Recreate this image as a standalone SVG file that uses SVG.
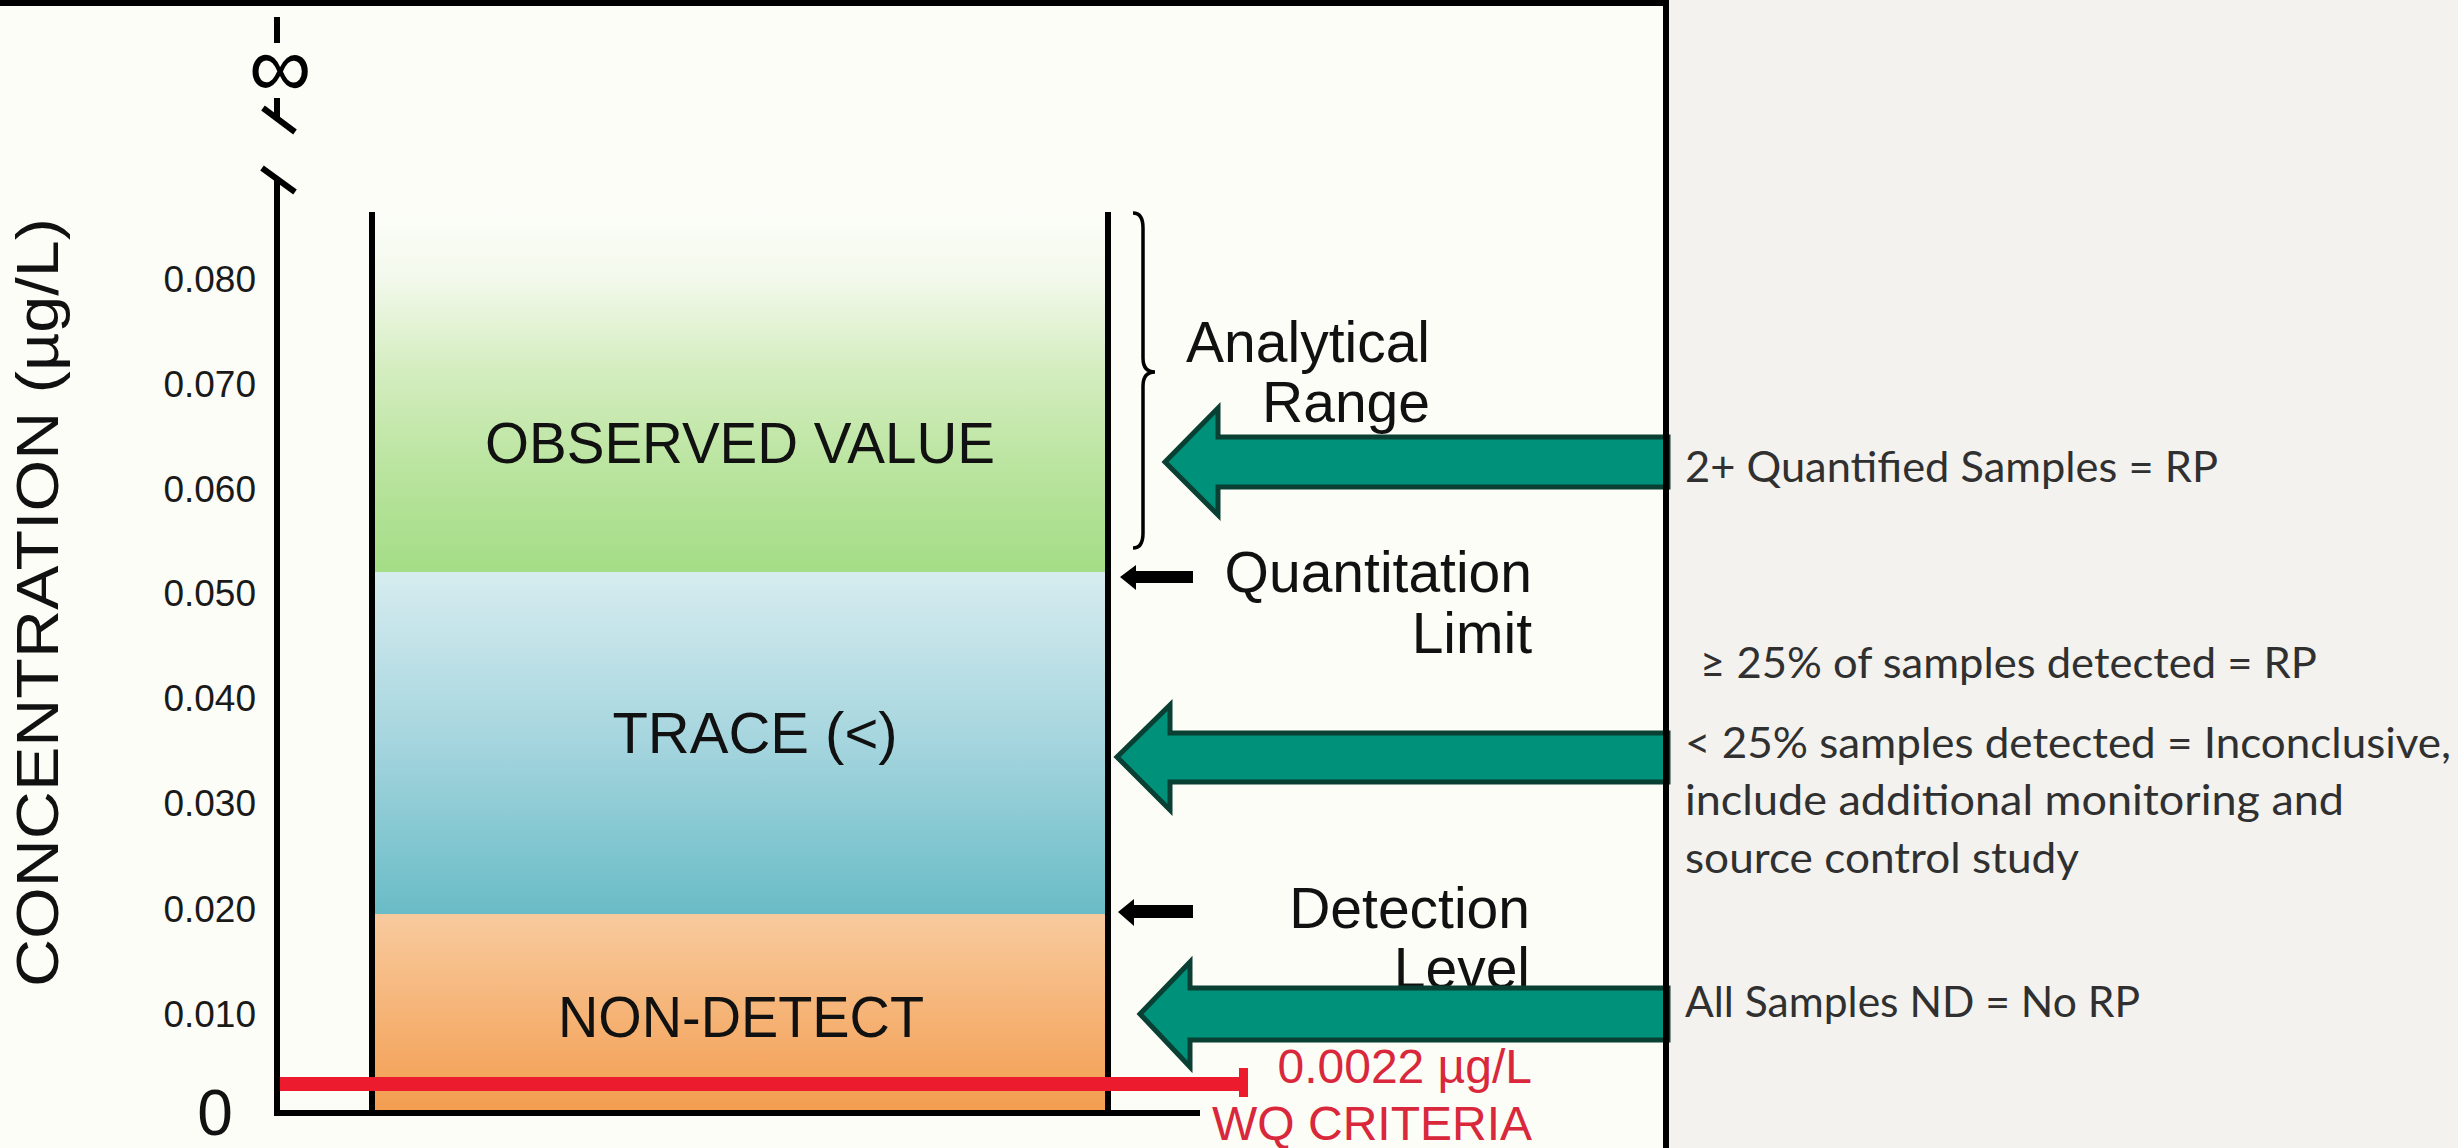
<svg xmlns="http://www.w3.org/2000/svg" width="2458" height="1148" viewBox="0 0 2458 1148">
<defs>
<style>
.ax{stroke:#000;stroke-width:6;fill:none}
.tick{font-family:"Liberation Sans",Arial,sans-serif;font-size:37px;fill:#1a1a1a;text-anchor:end}
.zone{font-family:"Liberation Sans",Arial,sans-serif;font-size:58px;fill:#111;text-anchor:middle}
.lbl{font-family:"Liberation Sans",Arial,sans-serif;font-size:57px;fill:#111;text-anchor:end}
.red{font-family:"Liberation Sans",Arial,sans-serif;font-size:48px;fill:#D9283B;text-anchor:end}
.note{font-family:Lato,"Open Sans",sans-serif;font-size:42px;fill:#303030}
.big{fill:#00917A;stroke:#0A3F33;stroke-width:5;stroke-linejoin:miter}
.small{fill:#000}
</style>
<linearGradient id="gGreen" x1="0" y1="212" x2="0" y2="572" gradientUnits="userSpaceOnUse">
<stop offset="0" stop-color="#FCFDF8"/>
<stop offset="0.18" stop-color="#F3F9EC"/>
<stop offset="0.42" stop-color="#D6EEC2"/>
<stop offset="0.72" stop-color="#B9E49E"/>
<stop offset="1" stop-color="#A4DD86"/>
</linearGradient>
<linearGradient id="gTeal" x1="0" y1="572" x2="0" y2="914" gradientUnits="userSpaceOnUse">
<stop offset="0" stop-color="#D6ECEF"/>
<stop offset="0.5" stop-color="#A5D5DE"/>
<stop offset="1" stop-color="#69BCC6"/>
</linearGradient>
<linearGradient id="gOrange" x1="0" y1="914" x2="0" y2="1112" gradientUnits="userSpaceOnUse">
<stop offset="0" stop-color="#F8CA9E"/>
<stop offset="1" stop-color="#F39D4F"/>
</linearGradient>
</defs>

<rect x="0" y="0" width="1668" height="1148" fill="#FCFDF7"/>
<rect x="1668" y="0" width="790" height="1148" fill="#F3F2EE"/>

<g id="zones">
<rect id="observed" x="375" y="212" width="731" height="360" fill="url(#gGreen)"/>
<rect id="trace" x="375" y="572" width="731" height="342" fill="url(#gTeal)"/>
<rect id="nondetect" x="375" y="914" width="731" height="198" fill="url(#gOrange)"/>
<text class="zone" x="740" y="463" textLength="510" lengthAdjust="spacingAndGlyphs">OBSERVED VALUE</text>
<text class="zone" x="755" y="753">TRACE (&lt;)</text>
<text class="zone" x="741" y="1037" textLength="366" lengthAdjust="spacingAndGlyphs">NON-DETECT</text>
</g>

<g id="axis">
<line class="ax" x1="277" y1="17" x2="277" y2="43"/>
<text x="280" y="97" font-family="Liberation Sans,Arial,sans-serif" font-size="88" text-anchor="middle" fill="#000">∞</text>
<line class="ax" x1="277" y1="98" x2="277" y2="118"/>
<line class="ax" x1="263" y1="108" x2="295" y2="132"/>
<line class="ax" x1="262" y1="168" x2="295" y2="192"/>
<line class="ax" x1="277" y1="178" x2="277" y2="1116"/>
<line class="ax" x1="274" y1="1113" x2="1200" y2="1113"/>
<line class="ax" x1="372" y1="212" x2="372" y2="1116"/>
<line class="ax" x1="1108" y1="212" x2="1108" y2="1116"/>
<text class="tick" x="256" y="292">0.080</text>
<text class="tick" x="256" y="397">0.070</text>
<text class="tick" x="256" y="502">0.060</text>
<text class="tick" x="256" y="606">0.050</text>
<text class="tick" x="256" y="711">0.040</text>
<text class="tick" x="256" y="816">0.030</text>
<text class="tick" x="256" y="922">0.020</text>
<text class="tick" x="256" y="1027">0.010</text>
<text x="215" y="1135" font-family="Liberation Sans,Arial,sans-serif" font-size="64" text-anchor="middle" fill="#111">0</text>
<text x="0" y="0" transform="translate(58,987) rotate(-90)" font-family="Liberation Sans,Arial,sans-serif" font-size="60" fill="#111" textLength="769" lengthAdjust="spacingAndGlyphs">CONCENTRATION (µg/L)</text>
</g>

<g id="labels">
<path d="M1133,213 Q1143,213 1143,228 L1143,358 Q1143,372 1155,372 Q1143,372 1143,386 L1143,533 Q1143,548 1133,548" fill="none" stroke="#000" stroke-width="3.5"/>
<text class="lbl" x="1430" y="362">Analytical</text>
<text class="lbl" x="1430" y="422">Range</text>
<text class="lbl" x="1532" y="592">Quantitation</text>
<text class="lbl" x="1532" y="653">Limit</text>
<text class="lbl" x="1530" y="928">Detection</text>
<text class="lbl" x="1530" y="988">Level</text>
</g>

<g id="criteria">
<rect x="280" y="1077" width="963" height="14" fill="#EC1C2E"/>
<rect x="1239" y="1068" width="9" height="29" fill="#EC1C2E"/>
<text class="red" x="1532" y="1083">0.0022 µg/L</text>
<text class="red" x="1532" y="1140">WQ CRITERIA</text>
</g>

<g id="connectors">
<polygon class="small" points="1120,577 1136,565 1136,571 1193,571 1193,583 1136,583 1136,590"/>
<polygon class="small" points="1118,912 1134,899 1134,905 1193,905 1193,918 1134,918 1134,926"/>
<polygon class="big" points="1165,462 1218,408 1218,437 1668,437 1668,487 1218,487 1218,515"/>
<polygon class="big" points="1117,757 1170,705 1170,733 1668,733 1668,782 1170,782 1170,810"/>
<polygon class="big" points="1140,1014 1190,962 1190,988 1668,988 1668,1040 1190,1040 1190,1067"/>
</g>

<g id="frame">
<rect x="0" y="0" width="1668" height="6" fill="#000"/>
<rect x="1663" y="0" width="6" height="1148" fill="#000"/>
</g>

<g id="notes">
<text class="note" x="1685" y="482" textLength="533" lengthAdjust="spacingAndGlyphs">2+ Quantified Samples = RP</text>
<text class="note" x="1700" y="678" textLength="617" lengthAdjust="spacingAndGlyphs">≥ 25% of samples detected = RP</text>
<text class="note" x="1685" y="758" textLength="766" lengthAdjust="spacingAndGlyphs">&lt; 25% samples detected = Inconclusive,</text>
<text class="note" x="1685" y="815" textLength="659" lengthAdjust="spacingAndGlyphs">include additional monitoring and</text>
<text class="note" x="1685" y="873" textLength="394" lengthAdjust="spacingAndGlyphs">source control study</text>
<text class="note" x="1685" y="1017" textLength="455" lengthAdjust="spacingAndGlyphs">All Samples ND = No RP</text>
</g>
</svg>
